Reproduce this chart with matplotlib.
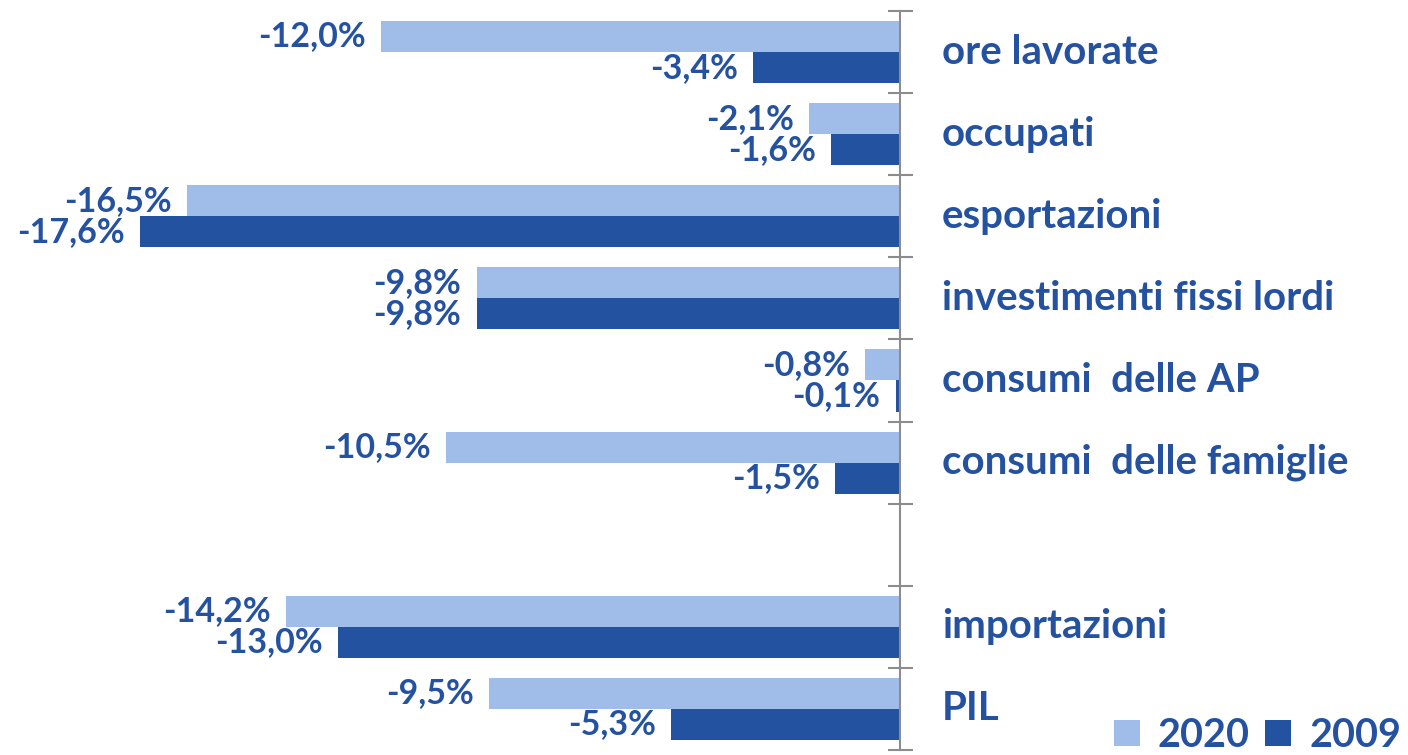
import numpy as np
import matplotlib.pyplot as plt

plt.rcParams['font.family'] = ['Lato', 'DejaVu Sans']

# dati (variazioni %), categoria vuota = riga di separazione
categorie = ['ore lavorate', 'occupati', 'esportazioni', 'investimenti fissi lordi',
             'consumi  delle AP', 'consumi  delle famiglie', '', 'importazioni', 'PIL']
val_2020 = [-12.0, -2.1, -16.5, -9.8, -0.8, -10.5, np.nan, -14.2, -9.5]
val_2009 = [-3.4, -1.6, -17.6, -9.8, -0.1, -1.5, np.nan, -13.0, -5.3]

c_light = '#a0bce8'
c_dark = '#2353a0'
c_text = '#2452a0'

fig = plt.figure(figsize=(14.08, 7.55), dpi=100)
ax = fig.add_axes([0, 0, 1, 1])

y = np.arange(len(categorie))
h = 0.378
b1 = ax.barh(y - h / 2, val_2020, height=h, color=c_light, label='2020', zorder=2)
b2 = ax.barh(y + h / 2, val_2009, height=h, color=c_dark, label='2009', zorder=2)

def fmt(v):
    return f"{v:.1f}%".replace('.', ',')

for bars, vals in [(b1, val_2020), (b2, val_2009)]:
    for rect, v in zip(bars, vals):
        if np.isnan(v):
            continue
        ax.annotate(fmt(v), (v, rect.get_y() + rect.get_height() / 2),
                    xytext=(-11, 0), textcoords='offset points',
                    ha='right', va='center', fontsize=24.5, fontweight='bold',
                    color=c_text)

for yi, cat in zip(y, categorie):
    ax.text(0.97, yi, cat, ha='left', va='center', fontsize=29,
            fontweight='bold', color=c_text)

# assi
ax.set_xlim(-20.83, 11.76)
ax.set_ylim(8.561, -0.634)
for s in ['top', 'right', 'bottom']:
    ax.spines[s].set_visible(False)
ax.spines['left'].set_position(('data', 0))
ax.spines['left'].set_bounds(-0.5, 8.5)
ax.spines['left'].set_color('#8c8c8c')
ax.spines['left'].set_linewidth(1.5)
ax.spines['left'].set_zorder(3)
ax.set_yticks(np.arange(-0.5, 9, 1))
ax.set_yticklabels([])
ax.tick_params(axis='y', direction='inout', length=18, width=1.5, color='#8c8c8c')
ax.set_xticks([])

leg = ax.legend(loc='lower right', bbox_to_anchor=(1.012, -0.03), ncol=2, frameon=False,
                prop={'size': 28.5, 'weight': 'bold'}, handlelength=0.66,
                handleheight=0.66, handletextpad=0.45, columnspacing=0.4,
                borderaxespad=0.2)
for t in leg.get_texts():
    t.set_color(c_text)

fig.savefig('out.png', dpi=100)
